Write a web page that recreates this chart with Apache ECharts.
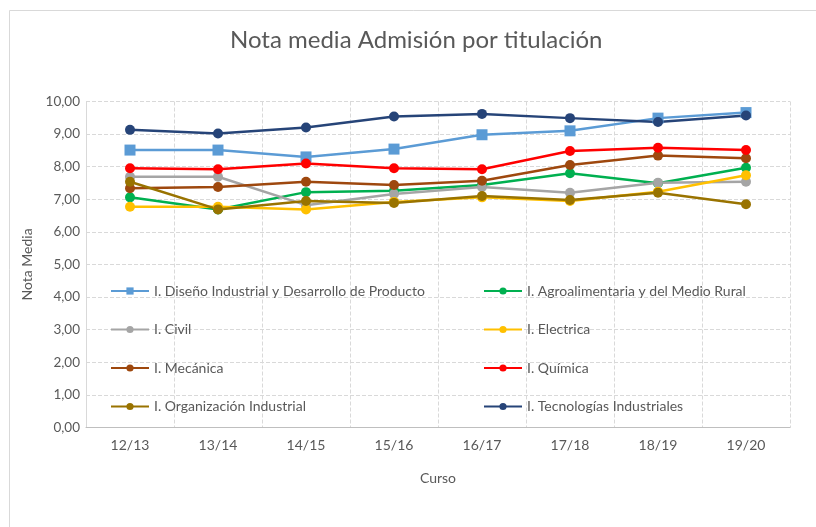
<!DOCTYPE html>
<html>
<head>
<meta charset="utf-8">
<script src="https://cdn.jsdelivr.net/npm/echarts@6/dist/echarts.min.js"></script>
<style>
html, body { margin: 0; padding: 0; background: #fff; }
#main { width: 816px; height: 527px; }
</style>
</head>
<body>
<div id="main"></div>
<script>
var cursos = ['12/13', '13/14', '14/15', '15/16', '16/17', '17/18', '18/19', '19/20'];

var diseno = [8.51, 8.51, 8.30, 8.54, 8.98, 9.10, 9.49, 9.66];
var agro = [7.06, 6.69, 7.22, 7.26, 7.44, 7.80, 7.49, 7.97];
var civil = [7.69, 7.69, 6.82, 7.16, 7.38, 7.20, 7.51, 7.54];
var electrica = [6.77, 6.77, 6.69, 6.92, 7.06, 6.95, 7.23, 7.74];
var mecanica = [7.34, 7.38, 7.54, 7.44, 7.57, 8.05, 8.34, 8.26];
var quimica = [7.95, 7.92, 8.10, 7.95, 7.92, 8.48, 8.58, 8.51];
var organizacion = [7.54, 6.69, 6.95, 6.89, 7.10, 6.98, 7.20, 6.85];
var tecnologias = [9.13, 9.02, 9.20, 9.54, 9.62, 9.49, 9.37, 9.57];

var myChart = echarts.init(document.getElementById('main'));
var font = 'Lato';
var gris = '#595959';

function serie(nombre, datos, color, simbolo, tam) {
    return {
        name: nombre,
        type: 'line',
        data: datos,
        symbol: simbolo,
        symbolSize: tam,
        lineStyle: { color: color, width: 2.5 },
        itemStyle: { color: color },
        emphasis: { disabled: true }
    };
}

var legendaBase = {
    orient: 'vertical',
    top: 284,
    itemGap: 24.5,
    itemWidth: 38,
    itemHeight: 9,
    textStyle: { color: gris, fontFamily: font, fontSize: 14 },
    padding: 0
};

var option = {
    backgroundColor: '#fff',
    animation: false,
    title: {
        text: 'Nota media Admisión por titulación',
        left: 230,
        top: 28,
        padding: 0,
        textStyle: { color: gris, fontFamily: font, fontSize: 24, fontWeight: 'normal' }
    },
    graphic: [{
        type: 'rect',
        shape: { x: 9.5, y: 10.5, width: 820, height: 530 },
        style: { fill: 'none', stroke: '#d9d9d9', lineWidth: 1 },
        silent: true
    }],
    legend: [
        Object.assign({}, legendaBase, {
            left: 110,
            data: ['I. Diseño Industrial y Desarrollo de Producto', 'I. Civil', 'I. Mecánica', 'I. Organización Industrial']
        }),
        Object.assign({}, legendaBase, {
            left: 483,
            data: ['I. Agroalimentaria y del Medio Rural', 'I. Electrica', 'I. Química', 'I. Tecnologías Industriales']
        })
    ],
    grid: { left: 86, right: 26, top: 101.5, bottom: 99.5 },
    xAxis: {
        type: 'category',
        data: cursos,
        name: 'Curso',
        nameLocation: 'middle',
        nameGap: 44,
        nameTextStyle: { color: gris, fontFamily: font, fontSize: 14 },
        boundaryGap: true,
        axisLine: { lineStyle: { color: '#bfbfbf' } },
        axisTick: { show: false },
        axisLabel: { color: gris, fontFamily: font, fontSize: 14, margin: 11 },
        splitLine: { show: true, lineStyle: { color: '#d9d9d9', type: 'dashed' } }
    },
    yAxis: {
        type: 'value',
        min: 0,
        max: 10,
        interval: 1,
        name: 'Nota Media',
        nameLocation: 'middle',
        nameGap: 52,
        nameTextStyle: { color: gris, fontFamily: font, fontSize: 14 },
        axisLine: { show: true, lineStyle: { color: '#d9d9d9' } },
        axisTick: { show: false },
        axisLabel: {
            color: gris, fontFamily: font, fontSize: 13.5, margin: 6,
            formatter: function (v) { return v.toFixed(2).replace('.', ','); }
        },
        splitLine: { show: true, lineStyle: { color: '#d9d9d9', type: 'dashed' } }
    },
    series: [
        serie('I. Diseño Industrial y Desarrollo de Producto', diseno, '#5B9BD5', 'rect', 11),
        serie('I. Agroalimentaria y del Medio Rural', agro, '#00B050', 'circle', 10),
        serie('I. Civil', civil, '#A5A5A5', 'circle', 10),
        serie('I. Electrica', electrica, '#FFC000', 'circle', 10),
        serie('I. Mecánica', mecanica, '#9E480E', 'circle', 10),
        serie('I. Química', quimica, '#FF0000', 'circle', 10),
        serie('I. Organización Industrial', organizacion, '#997300', 'circle', 10),
        serie('I. Tecnologías Industriales', tecnologias, '#264478', 'circle', 10)
    ]
};
myChart.setOption(option);
</script>
</body>
</html>
